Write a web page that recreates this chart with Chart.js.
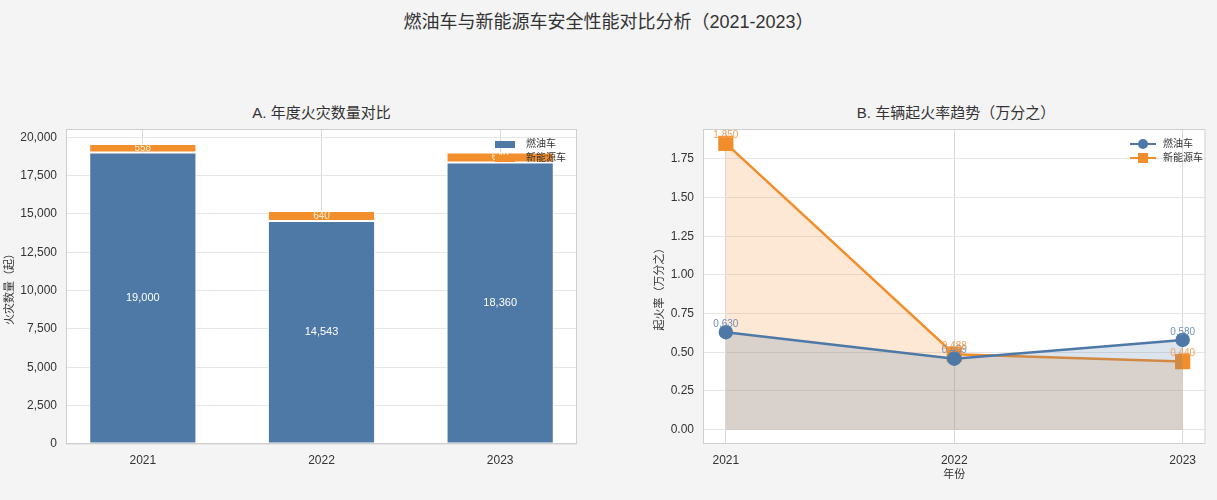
<!DOCTYPE html>
<html>
<head>
<meta charset="utf-8">
<script src="https://cdn.jsdelivr.net/npm/chart.js@4.4.1/dist/chart.umd.min.js"></script>
<style>
  body { margin: 0; background: #f4f4f4; width: 1217px; height: 500px; overflow: hidden; position: relative;
         font-family: "Liberation Sans", "Noto Sans CJK SC", sans-serif; color: #333; }
  #title { position: absolute; top: 7px; left: 0; width: 1217px; text-align: center; font-size: 18px; }
  .sub { position: absolute; top: 101px; font-size: 15px; text-align: center; }
  .wrap { position: absolute; top: 95px; }
  .legend { position: absolute; top: 137px; font-size: 10px; line-height: 14px; }
  .row { display: flex; align-items: center; height: 14px; }
  .sw { width: 20px; height: 7px; margin-right: 11px; }
  .ln { position: relative; width: 26px; height: 2px; margin-right: 7px; }
  .ln i { position: absolute; left: 8px; top: -4px; width: 10px; height: 10px; }
</style>
</head>
<body>
<div id="title">燃油车与新能源车安全性能对比分析（2021-2023）</div>
<div class="sub" style="left:66px;width:511px">A. 年度火灾数量对比</div>
<div class="sub" style="left:703px;width:506px">B. 车辆起火率趋势（万分之）</div>

<div class="wrap" style="left:0"><canvas id="chartA" width="600" height="400"></canvas></div>
<div class="wrap" style="left:649px"><canvas id="chartB" width="568" height="400"></canvas></div>

<div class="legend" style="left:495px">
  <div class="row"><div class="sw" style="background:#4e79a7"></div>燃油车</div>
  <div class="row"><div class="sw" style="background:#f28e2b"></div>新能源车</div>
</div>
<div class="legend" style="left:1130px">
  <div class="row"><div class="ln" style="background:#4e79a7"><i style="background:#4e79a7;border-radius:50%"></i></div>燃油车</div>
  <div class="row"><div class="ln" style="background:#f28e2b"><i style="background:#f28e2b"></i></div>新能源车</div>
</div>

<script>
const years = ['2021', '2022', '2023'];
const fuelFires = [19000, 14543, 18360];
const nevFires = [558, 640, 640];
const fuelRate = [0.630, 0.459, 0.580];
const nevRate = [1.850, 0.488, 0.440];
const countTicks = [0, 2500, 5000, 7500, 10000, 12500, 15000, 17500, 20000];
const rateTicks = [0, 0.25, 0.5, 0.75, 1, 1.25, 1.5, 1.75];

const BLUE = '#4e79a7';
const ORANGE = '#f28e2b';

Chart.defaults.font.family = '"Liberation Sans", "Noto Sans CJK SC", sans-serif';
Chart.defaults.font.size = 12;
Chart.defaults.color = '#333';

// white plot area + light frame
const frame = {
  id: 'frame',
  beforeDraw(c) {
    const { ctx, chartArea: a } = c;
    ctx.save();
    ctx.fillStyle = '#fff';
    ctx.fillRect(a.left, a.top, a.width, a.height);
    ctx.restore();
  },
  afterDraw(c) {
    const { ctx, chartArea: a } = c;
    ctx.save();
    ctx.strokeStyle = '#cfcfcf';
    ctx.lineWidth = 1;
    ctx.strokeRect(a.left + 0.5, a.top + 0.5, a.width - 1, a.height - 1);
    ctx.restore();
  }
};

const barLabels = {
  id: 'barLabels',
  afterDatasetsDraw(c) {
    const ctx = c.ctx;
    ctx.save();
    ctx.textAlign = 'center';
    ctx.textBaseline = 'middle';
    c.data.datasets.forEach((ds, i) => {
      c.getDatasetMeta(i).data.forEach((bar, j) => {
        ctx.font = (i === 0 ? '11px' : '10px') + ' "Liberation Sans", sans-serif';
        ctx.fillStyle = i === 0 ? '#ffffff' : 'rgba(255,248,225,0.9)';
        ctx.fillText(ds.data[j].y.toLocaleString('en-US'), bar.x, (bar.y + bar.base) / 2);
      });
    });
    ctx.restore();
  }
};

const pointLabels = {
  id: 'pointLabels',
  afterDatasetsDraw(c) {
    const ctx = c.ctx;
    ctx.save();
    ctx.textAlign = 'center';
    ctx.textBaseline = 'bottom';
    ctx.font = '10px "Liberation Sans", sans-serif';
    c.data.datasets.forEach((ds, i) => {
      ctx.fillStyle = i === 0 ? '#6f8fb9' : '#f2a35a';
      c.getDatasetMeta(i).data.forEach((pt, j) => {
        ctx.fillText(ds.data[j].y.toFixed(3), pt.x, pt.y - 3);
      });
    });
    ctx.restore();
  }
};

function yearAxis(min, max) {
  return {
    type: 'linear', min: min, max: max, offset: false,
    afterBuildTicks: s => { s.ticks = years.map((y, i) => ({ value: i })); },
    afterFit: s => { s.height = 51; },
    ticks: { callback: v => years[v], padding: 9, color: '#333' },
    grid: { color: '#d9d9d9', drawTicks: false, offset: false },
    border: { display: false }
  };
}

new Chart(document.getElementById('chartA'), {
  type: 'bar',
  data: {
    datasets: [
      { label: '燃油车', data: fuelFires.map((v, i) => ({ x: i, y: v })), backgroundColor: BLUE,
        borderColor: '#fff', borderWidth: 1, borderSkipped: false, barPercentage: 0.6, categoryPercentage: 1 },
      { label: '新能源车', data: nevFires.map((v, i) => ({ x: i, y: v })), backgroundColor: ORANGE,
        borderColor: '#fff', borderWidth: 1, borderSkipped: false, barPercentage: 0.6, categoryPercentage: 1 }
    ]
  },
  options: {
    responsive: false,
    animation: false,
    layout: { padding: { top: 34, right: 23, bottom: 0, left: 0 } },
    plugins: { legend: { display: false }, tooltip: { enabled: false } },
    scales: {
      x: Object.assign(yearAxis(-0.43, 2.43), { stacked: true }),
      y: {
        stacked: true, min: 0, max: 20536,
        afterBuildTicks: s => { s.ticks = countTicks.map(v => ({ value: v })); },
        afterFit: s => { s.width = 66; },
        ticks: { callback: v => v.toLocaleString('en-US'), padding: 9, color: '#333' },
        grid: { color: '#e6e6e6', drawTicks: false },
        border: { display: false },
        title: { display: true, text: '火灾数量（起）', font: { size: 11 }, padding: { top: 3, bottom: 0 } }
      }
    }
  },
  plugins: [frame, barLabels]
});

new Chart(document.getElementById('chartB'), {
  type: 'line',
  data: {
    datasets: [
      { label: '燃油车', data: fuelRate.map((v, i) => ({ x: i, y: v })), borderColor: BLUE,
        backgroundColor: 'rgba(78,121,167,0.2)', fill: 'origin', borderWidth: 2.5,
        pointStyle: 'circle', pointRadius: 6, pointBackgroundColor: BLUE, pointBorderColor: BLUE },
      { label: '新能源车', data: nevRate.map((v, i) => ({ x: i, y: v })), borderColor: ORANGE,
        backgroundColor: 'rgba(242,142,43,0.2)', fill: 'origin', borderWidth: 2.5,
        pointStyle: 'rect', pointRadius: 9, pointBackgroundColor: ORANGE, pointBorderColor: ORANGE }
    ]
  },
  options: {
    responsive: false,
    animation: false,
    layout: { padding: { top: 34, right: 8, bottom: 0, left: 0 } },
    plugins: { legend: { display: false }, tooltip: { enabled: false } },
    scales: {
      x: Object.assign(yearAxis(-0.1, 2.1), {
        title: { display: true, text: '年份', font: { size: 11 }, padding: { top: 0, bottom: 13 } }
      }),
      y: {
        min: -0.0925, max: 1.9425,
        afterBuildTicks: s => { s.ticks = rateTicks.map(v => ({ value: v })); },
        afterFit: s => { s.width = 54; },
        ticks: { callback: v => v.toFixed(2), padding: 9, color: '#333' },
        grid: { color: '#e6e6e6', drawTicks: false },
        border: { display: false },
        title: { display: true, text: '起火率（万分之）', font: { size: 11 }, padding: { top: 4, bottom: 0 } }
      }
    }
  },
  plugins: [frame, pointLabels]
});
</script>
</body>
</html>
